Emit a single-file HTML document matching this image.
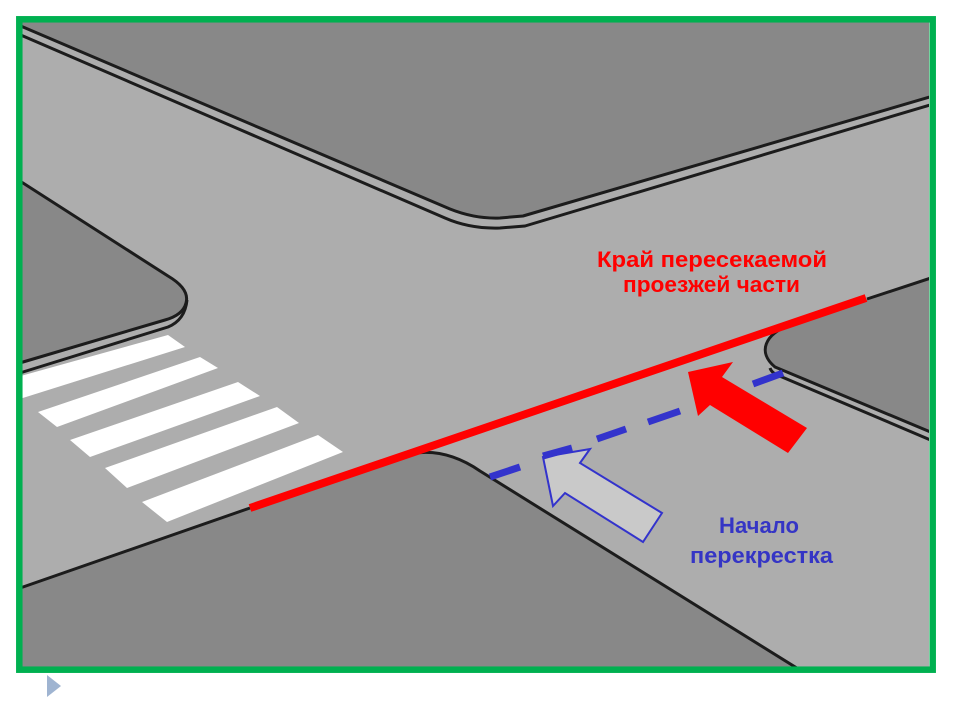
<!DOCTYPE html>
<html><head><meta charset="utf-8"><style>
html,body{margin:0;padding:0;background:#fff;}
svg{display:block;}
</style></head><body>
<svg width="960" height="720" viewBox="0 0 960 720" xmlns="http://www.w3.org/2000/svg">
<defs><clipPath id="c"><rect x="22" y="22" width="907" height="646"/></clipPath></defs>
<rect width="960" height="720" fill="#fff"/>
<g clip-path="url(#c)">
<rect x="22" y="22" width="907" height="646" fill="#adadad"/>
<!-- top block -->
<path d="M10,10 L10,22 L23,27 L450,209 Q475,219 500,218 L523,216 L940,94 L940,10 Z" fill="#888"/>
<!-- left block -->
<path d="M10,175 L23,183 L168,276 Q190,289 186,303 Q183,315 165,320 L23,362 L10,366 Z" fill="#888"/>
<!-- bottom-left block -->
<path d="M10,591 L23,587 L250,508 L410,454 Q445,447 480,471 L800,670 L10,670 Z" fill="#888"/>
<!-- right block -->
<path d="M940,275 L867,299 L785,327 C765,334 757,352 775,367 L940,436 Z" fill="#888"/>
<!-- crosswalk -->
<g fill="#fff">
<polygon points="10,379 168,335 185,347 10,402"/>
<polygon points="38,412 200,357 218,368 57,427"/>
<polygon points="70,440 238,382 260,396 90,457"/>
<polygon points="105,468 277,407 299,423 127,488"/>
<polygon points="142,502 318,435 343,452 167,522"/>
</g>
<!-- black curb lines -->
<g fill="none" stroke="#1c1c1c" stroke-width="3" stroke-linejoin="round">
<path d="M10,21 L23,27 L450,209 Q475,219 500,218 L523,216 L940,94"/>
<path d="M10,30 L23,36 L445,218 Q470,229 500,228 L525,226 L940,102"/>
<path d="M10,175 L23,183 L168,276 Q190,289 186,303 Q183,315 165,320 L23,362 L10,366"/>
<path d="M187,300 Q185,320 168,327 L23,372 L10,376"/>
<path d="M10,591 L23,587 L250,508"/>
<path d="M410,454 Q445,447 480,471 L800,670"/>
<path d="M940,275 L867,299"/>
<path d="M790,325 C765,334 757,352 775,367 L940,436"/>
<path d="M770,368 Q772,374 782,377 L940,444"/>
</g>
<!-- red line -->
<line x1="250" y1="508" x2="866" y2="298" stroke="#ff0000" stroke-width="8"/>
<!-- blue dashes -->
<g stroke="#3333cc" stroke-width="7">
<line x1="490" y1="477" x2="520" y2="467"/>
<line x1="597" y1="439" x2="626" y2="429"/>
<line x1="648" y1="422" x2="680" y2="411"/>
<line x1="753" y1="384" x2="783" y2="373"/>
</g>
<!-- blue outline arrow -->
<polygon points="543,457 590,449 580,463 662,513 643,542 565,493 553,506" fill="#c9c9c9" stroke="#3333cc" stroke-width="2" stroke-linejoin="miter"/>
<line x1="543" y1="456" x2="572" y2="448" stroke="#3333cc" stroke-width="7"/>
<!-- red arrow -->
<polygon points="688,372 733,362 722,377 807,428 788,453 710,405 698,416" fill="#ff0000"/>
<!-- texts -->
<g font-family="'Liberation Sans', 'DejaVu Sans', sans-serif" font-weight="bold" font-size="22">
<text x="597" y="267" fill="#ff0000" textLength="230" lengthAdjust="spacingAndGlyphs">Край пересекаемой</text>
<text x="623" y="292" fill="#ff0000" textLength="177" lengthAdjust="spacingAndGlyphs">проезжей части</text>
<text x="719" y="533" fill="#3535c5" textLength="80" lengthAdjust="spacingAndGlyphs">Начало</text>
<text x="690" y="563" fill="#3535c5" textLength="143" lengthAdjust="spacingAndGlyphs">перекрестка</text>
</g>
</g>
<!-- green frame -->
<rect x="19.3" y="19.3" width="913.4" height="650.4" fill="none" stroke="#00b050" stroke-width="6.5"/>
<!-- small triangle -->
<polygon points="47,675 61,686 47,697" fill="#9fb4d1"/>
</svg>
</body></html>
